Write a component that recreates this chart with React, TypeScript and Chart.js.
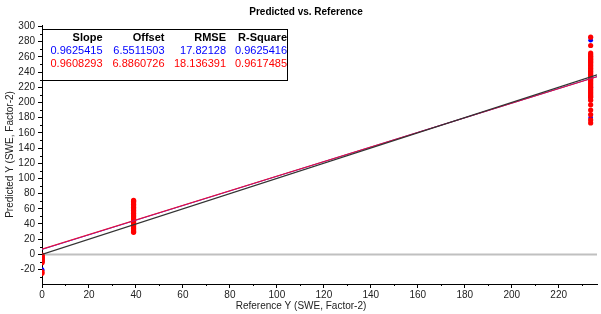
import React, { useEffect, useRef } from 'react';
import { Chart, registerables } from 'chart.js';

Chart.register(...registerables);

// ---- data ----
const chartTitle = 'Predicted vs. Reference';
const xTitle = 'Reference Y (SWE, Factor-2)';
const yTitle = 'Predicted Y (SWE, Factor-2)';

const xMin = 0;
const xMax = 236.3;
const yMin = -39;
const yMax = 302;
const xTickValues = [0, 20, 40, 60, 80, 100, 120, 140, 160, 180, 200, 220];
const yTickValues = [-20, 0, 20, 40, 60, 80, 100, 120, 140, 160, 180, 200, 220, 240, 260, 280, 300];
const xMinorTicks = [10, 30, 50, 70, 90, 110, 130, 150, 170, 190, 210, 230];
const yMinorTicks = [-30, -10, 10, 30, 50, 70, 90, 110, 130, 150, 170, 190, 210, 230, 250, 270, 290];

const refLow = 0;
const refMid = 39;
const refHigh = 233.6;

const redLow = [-1, -2, -3, -4, -5, -6, -7, -8, -9, -10, -11, -23, -25];
const redMid = [71, 70, 68, 66, 64, 62, 60, 58, 56, 54, 52, 50, 48, 46, 44, 42, 40, 38, 36, 34, 32, 30, 29];
const redHigh = [286, 275, 265, 263, 261, 259, 257, 255, 253, 251, 249, 247, 245, 243, 241, 239, 237, 235, 233, 231, 229, 227, 225, 223, 221, 219, 217, 215, 213, 211, 209, 207, 203, 197, 190, 184, 177, 173];

const blueLow = [-2, -4, -6, -8, -10, -20, -21];
const blueMid = [69, 60, 50, 40, 31];
const blueHigh = [282, 240, 220, 206, 180];

const tableHeaders = ['Slope', 'Offset', 'RMSE', 'R-Square'];
const blueStats = ['0.9625415', '6.5511503', '17.82128', '0.9625416'];
const redStats = ['0.9608293', '6.8860726', '18.136391', '0.9617485'];
const blueSlope = 0.9625415;
const blueOffset = 6.5511503;
const redSlope = 0.9608293;
const redOffset = 6.8860726;

const lineEnds = [0, 236.3];

// ---- helpers ----
const toPoints = (x: number, ys: number[]) => ys.map((y) => ({ x, y }));
const fitLine = (slope: number, offset: number) => lineEnds.map((x) => ({ x, y: offset + slope * x }));

const FONT = '"Liberation Sans", Arial, sans-serif';

const decorPlugin = {
  id: 'decor',
  afterDraw(chart: any) {
    const ctx = chart.ctx;
    const xs = chart.scales.x;
    const ys = chart.scales.y;
    const area = chart.chartArea;
    ctx.save();
    // minor ticks
    ctx.strokeStyle = '#000';
    ctx.lineWidth = 1;
    ctx.beginPath();
    xMinorTicks.forEach((v) => {
      const px = Math.round(xs.getPixelForValue(v)) + 0.5;
      ctx.moveTo(px, area.bottom);
      ctx.lineTo(px, area.bottom + 2);
    });
    yMinorTicks.forEach((v) => {
      const py = Math.round(ys.getPixelForValue(v)) + 0.5;
      ctx.moveTo(area.left - 2, py);
      ctx.lineTo(area.left, py);
    });
    ctx.stroke();

    // title
    ctx.fillStyle = '#000';
    ctx.font = `bold 10px ${FONT}`;
    ctx.textAlign = 'center';
    ctx.textBaseline = 'middle';
    ctx.fillText(chartTitle, 306, 12);

    // axis titles
    ctx.font = `10px ${FONT}`;
    ctx.fillStyle = '#222';
    ctx.fillText(xTitle, 301, 306);
    ctx.save();
    ctx.translate(10, (area.top + area.bottom) / 2);
    ctx.rotate(-Math.PI / 2);
    ctx.fillText(yTitle, 0, 0);
    ctx.restore();

    // stats table
    const bx = area.left + 0.5;
    const by = 29.5;
    const bw = 245;
    const bh = 51;
    ctx.fillStyle = '#fff';
    ctx.fillRect(bx, by, bw, bh);
    ctx.strokeStyle = '#000';
    ctx.lineWidth = 1;
    ctx.strokeRect(bx, by, bw, bh);
    const colRight = [102.5, 164.5, 226, 287];
    ctx.textAlign = 'right';
    ctx.textBaseline = 'middle';
    ctx.font = `bold 11px ${FONT}`;
    ctx.fillStyle = '#000';
    tableHeaders.forEach((t, i) => ctx.fillText(t, colRight[i], 38));
    ctx.font = `11px ${FONT}`;
    ctx.fillStyle = '#0000ff';
    blueStats.forEach((t, i) => ctx.fillText(t, colRight[i], 51));
    ctx.fillStyle = '#ff0000';
    redStats.forEach((t, i) => ctx.fillText(t, colRight[i], 63.5));
    ctx.restore();
  },
};

export default function App() {
  const ref = useRef<HTMLCanvasElement | null>(null);

  useEffect(() => {
    if (!ref.current) return;
    const chart = new Chart(ref.current, {
      type: 'scatter',
      data: {
        datasets: [
          {
            data: lineEnds.map((x) => ({ x, y: x })),
            showLine: true,
            borderColor: '#333333',
            borderWidth: 1.3,
            pointRadius: 0,
          },
          {
            data: fitLine(redSlope, redOffset),
            showLine: true,
            borderColor: '#e8103c',
            borderWidth: 1.2,
            pointRadius: 0,
          },
          {
            data: fitLine(blueSlope, blueOffset),
            showLine: true,
            borderColor: '#3030ff',
            borderWidth: 1,
            pointRadius: 0,
          },
          {
            data: [...toPoints(refLow, redLow), ...toPoints(refMid, redMid), ...toPoints(refHigh, redHigh)],
            backgroundColor: '#ff0000',
            borderColor: '#ff0000',
            borderWidth: 0,
            pointRadius: 2.6,
          },
          {
            data: [...toPoints(refLow, blueLow), ...toPoints(refMid, blueMid), ...toPoints(refHigh, blueHigh)],
            backgroundColor: '#0000ff',
            borderColor: '#0000ff',
            borderWidth: 0,
            pointRadius: 2.4,
          },
          {
            data: lineEnds.map((x) => ({ x, y: 0 })),
            showLine: true,
            borderColor: '#c0c0c0',
            borderWidth: 2,
            pointRadius: 0,
          },
        ],
      } as any,
      options: {
        animation: false,
        responsive: false,
        devicePixelRatio: 1,
        layout: { padding: { left: 0, top: 25, right: 1, bottom: 0 } },
        plugins: {
          legend: { display: false },
          tooltip: { enabled: false },
          title: { display: false },
        },
        scales: {
          x: {
            type: 'linear',
            min: xMin,
            max: xMax,
            afterBuildTicks: (scale: any) => {
              scale.ticks = xTickValues.map((value) => ({ value }));
            },
            afterFit: (scale: any) => {
              scale.height = 30;
            },
            grid: { drawOnChartArea: false, drawTicks: true, tickLength: 4, color: '#000' },
            border: { color: '#000', width: 1 },
            ticks: {
              autoSkip: false,
              maxRotation: 0,
              padding: 1,
              color: '#222',
              font: { family: FONT, size: 10 },
            },
          },
          y: {
            type: 'linear',
            min: yMin,
            max: yMax,
            afterBuildTicks: (scale: any) => {
              scale.ticks = yTickValues.map((value) => ({ value }));
            },
            afterFit: (scale: any) => {
              scale.width = 42;
            },
            grid: { drawOnChartArea: false, drawTicks: true, tickLength: 4, color: '#000' },
            border: { color: '#000', width: 1 },
            ticks: {
              autoSkip: false,
              padding: 3,
              color: '#222',
              font: { family: FONT, size: 10 },
            },
          },
        },
      } as any,
      plugins: [decorPlugin],
    });
    return () => chart.destroy();
  }, []);

  return (
    <div style={{ position: 'absolute', left: 0, top: 0, width: 601, height: 314, background: '#fff' }}>
      <canvas ref={ref} width={601} height={314} style={{ width: 601, height: 314 }} />
    </div>
  );
}
